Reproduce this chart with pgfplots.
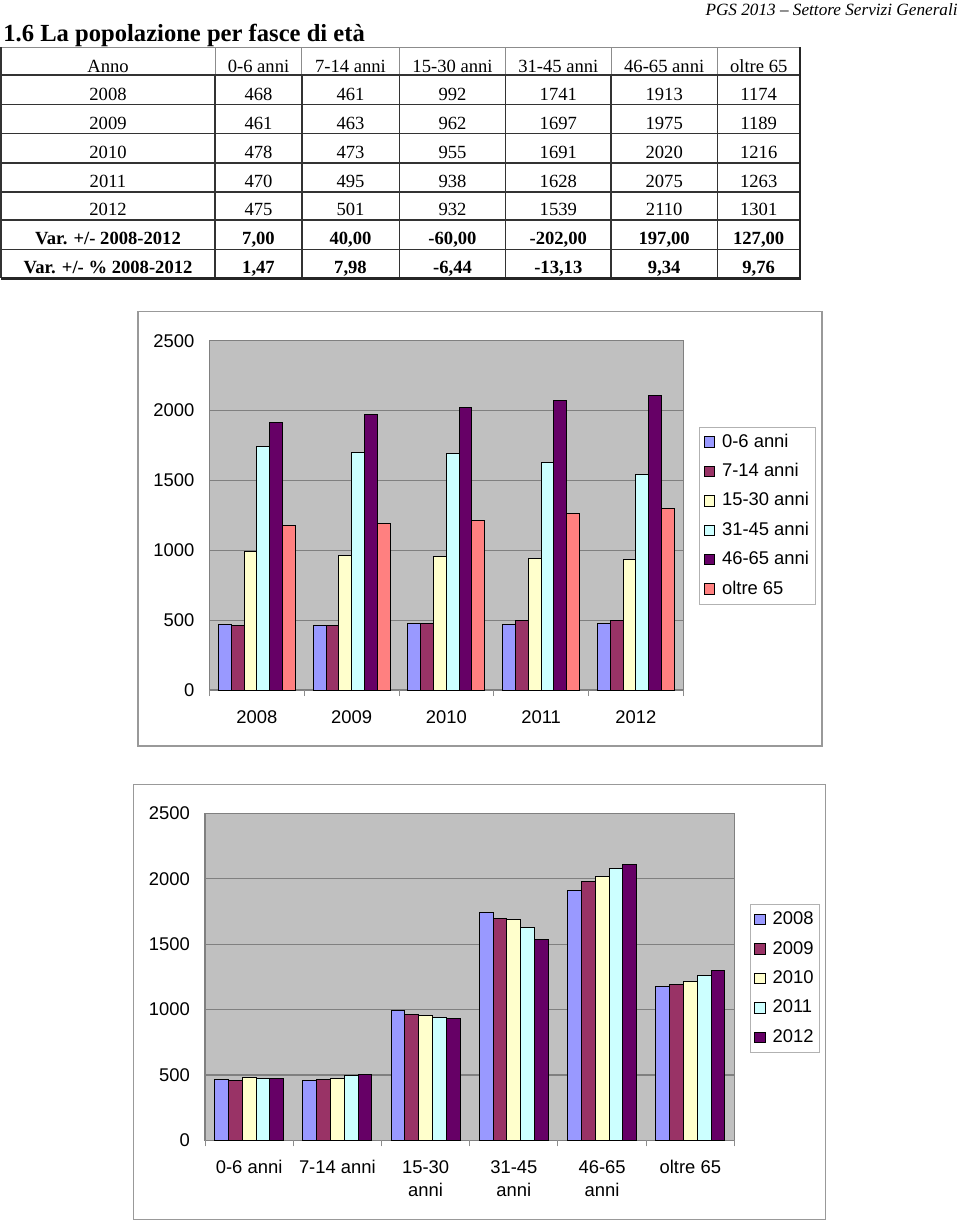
\documentclass[border=0pt]{standalone}
\usepackage{fontspec}
\setmainfont{Liberation Serif}
\setsansfont{Liberation Sans}
\usepackage{pgfplots}
\usepackage{pgfplotstable}
\pgfplotsset{compat=1.18}

\definecolor{s1}{HTML}{9999FF}
\definecolor{s2}{HTML}{993366}
\definecolor{s3}{HTML}{FFFFCC}
\definecolor{s4}{HTML}{CCFFFF}
\definecolor{s5}{HTML}{660066}
\definecolor{s6}{HTML}{FF8080}
\definecolor{plotbg}{HTML}{C0C0C0}
\definecolor{gridc}{HTML}{808080}

% popolazione per anno e fascia di eta
\pgfplotstableread{
anno a06 a714 a1530 a3145 a4665 a65
2008 468 461 992 1741 1913 1174
2009 461 463 962 1697 1975 1189
2010 478 473 955 1691 2020 1216
2011 470 495 938 1628 2075 1263
2012 475 501 932 1539 2110 1301
}\pervolte

\pgfplotstableread{
fascia y2008 y2009 y2010 y2011 y2012
0 468 461 478 470 475
1 461 463 473 495 501
2 992 962 955 938 932
3 1741 1697 1691 1628 1539
4 1913 1975 2020 2075 2110
5 1174 1189 1216 1263 1301
}\perfascia

\newcommand\cf{\sffamily\fontsize{9.2}{11.25}\selectfont}
\newcommand\tf{\fontsize{9.3}{11}\selectfont}
\newcommand\two[2]{\begin{tabular}[t]{@{}c@{}}#1\\#2\end{tabular}}

% una riga della tabella: y della linea di base, prefisso, sette celle
\newcommand\trow[9]{%
  \node[tc] at (108,#1)   {#2#3};
  \node[tc] at (258.5,#1) {#2#4};
  \node[tc] at (350.5,#1) {#2#5};
  \node[tc] at (452.5,#1) {#2#6};
  \node[tc] at (558.3,#1) {#2#7};
  \node[tc] at (664.2,#1) {#2#8};
  \node[tc] at (758.7,#1) {#2#9};
}

\pgfplotsset{
  ybar legend/.style={legend image code/.code={%
      \draw[##1,line width=0.5pt] (0pt,-2.6pt) rectangle (5.2pt,2.6pt);}},
  excel/.style={
    scale only axis,
    anchor=south west,
    ybar=0pt,
    ymin=0, ymax=2500,
    ytick={0,500,...,2500},
    ymajorgrids,
    grid style={draw=gridc, line width=0.6pt},
    axis background/.style={fill=plotbg},
    axis line style={draw=black!50, line width=0.6pt},
    tick align=outside,
    tick pos=left,
    major tick length=3pt,
    tick style={draw=none},
    extra x tick style={xtick style={draw=black!45, line width=0.5pt}, grid=none},
    extra x tick labels={},
    /pgf/number format/assume math mode=true,
    /pgf/number format/1000 sep={},
    yticklabel style={font=\cf, anchor=east, inner sep=0pt, xshift=-4.4pt},
    xticklabel style={font=\cf, anchor=base, yshift=-13.6pt},
    every axis plot/.append style={draw=black, line width=0.5pt},
    legend cell align=left,
    legend style={
      anchor=north west, draw=black!30, fill=white, font=\cf,
      inner xsep=2pt, inner ysep=2pt, row sep=3.7pt,
      nodes={inner sep=1pt, text height=7pt, text depth=2pt},
      /tikz/every odd column/.append style={column sep=2.5pt},
    },
  },
}

\begin{document}
\begin{tikzpicture}
\useasboundingbox (0,0) rectangle (480pt,-611pt);
\begin{scope}[x=0.5pt, y=-0.5pt, tc/.style={anchor=base, inner sep=0pt, font=\tf}]
  \node[anchor=base east, inner sep=0pt, font=\itshape\fontsize{8.6}{10}\selectfont]
    at (958,15.5) {PGS 2013 – Settore Servizi Generali};
  \node[anchor=base west, inner sep=0pt, font=\bfseries\fontsize{12.3}{14}\selectfont]
    at (3,41.5) {1.6 La popolazione per fasce di età};
  % griglia della tabella
  \draw[black!45, line width=0.5pt] (1,47) -- (800,47);
  \foreach \x in {215,301.7,399.4,505.5,611,717.3}
    \draw[black!45, line width=0.5pt] (\x,47) -- (\x,75);
  \foreach \y in {75,104.3,133.3,162.7,191.7,220,249.3}
    \draw[black!80, line width=0.8pt] (1,\y) -- (800,\y);
  \foreach \x in {215,301.7,399.4,505.5,611,717.3}
    \draw[black!80, line width=0.8pt] (\x,75) -- (\x,278.3);
  \draw[black!80, line width=0.8pt] (1,47) -- (1,278.3);
  \draw[black!85, line width=1.2pt] (800,47) -- (800,278.3) -- (1,278.3);
  \trow{72}{}{Anno}{0-6 anni}{7-14 anni}{15-30 anni}{31-45 anni}{46-65 anni}{oltre 65}
  \trow{100}{}{2008}{468}{461}{992}{1741}{1913}{1174}
  \trow{129}{}{2009}{461}{463}{962}{1697}{1975}{1189}
  \trow{158}{}{2010}{478}{473}{955}{1691}{2020}{1216}
  \trow{187}{}{2011}{470}{495}{938}{1628}{2075}{1263}
  \trow{215.7}{}{2012}{475}{501}{932}{1539}{2110}{1301}
  \trow{244}{\bfseries}{Var. +/- 2008-2012}{7,00}{40,00}{-60,00}{-202,00}{197,00}{127,00}
  \trow{273.3}{\bfseries}{Var. +/- \% 2008-2012}{1,47}{7,98}{-6,44}{-13,13}{9,34}{9,76}
  % cornici dei grafici
  \draw[black!40, line width=0.6pt] (138,311.7) rectangle (822,746);
  \draw[black!40, line width=0.6pt] (133.6,784.3) rectangle (825.4,1219.3);
\end{scope}

\begin{axis}[excel,
  at={(104.8pt,-345pt)}, width=236.8pt, height=174.65pt,
  bar width=6.4pt,
  xmin=-0.5, xmax=4.5,
  xtick={0,...,4}, xticklabels={2008,2009,2010,2011,2012},
  extra x ticks={-0.5,0.5,...,4.5},
  legend style={at={(1.034,0.754)}},
]
\addplot[fill=s1] table[x expr=\coordindex, y=a06]   {\pervolte};
\addplot[fill=s2] table[x expr=\coordindex, y=a714]  {\pervolte};
\addplot[fill=s3] table[x expr=\coordindex, y=a1530] {\pervolte};
\addplot[fill=s4] table[x expr=\coordindex, y=a3145] {\pervolte};
\addplot[fill=s5] table[x expr=\coordindex, y=a4665] {\pervolte};
\addplot[fill=s6] table[x expr=\coordindex, y=a65]   {\pervolte};
\legend{0-6 anni, 7-14 anni, 15-30 anni, 31-45 anni, 46-65 anni, oltre 65}
\end{axis}

\begin{axis}[excel,
  at={(102.5pt,-570.15pt)}, width=264.75pt, height=163.5pt,
  bar width=6.9pt,
  xmin=-0.5, xmax=5.5,
  xtick={0,...,5},
  xticklabels={0-6 anni, 7-14 anni, \two{15-30}{anni}, \two{31-45}{anni}, \two{46-65}{anni}, oltre 65},
  extra x ticks={-0.5,0.5,...,5.5},
  legend style={at={(1.029,0.7217)}},
]
\addplot[fill=s1] table[x=fascia, y=y2008] {\perfascia};
\addplot[fill=s2] table[x=fascia, y=y2009] {\perfascia};
\addplot[fill=s3] table[x=fascia, y=y2010] {\perfascia};
\addplot[fill=s4] table[x=fascia, y=y2011] {\perfascia};
\addplot[fill=s5] table[x=fascia, y=y2012] {\perfascia};
\legend{2008, 2009, 2010, 2011, 2012}
\end{axis}
\end{tikzpicture}
\end{document}
